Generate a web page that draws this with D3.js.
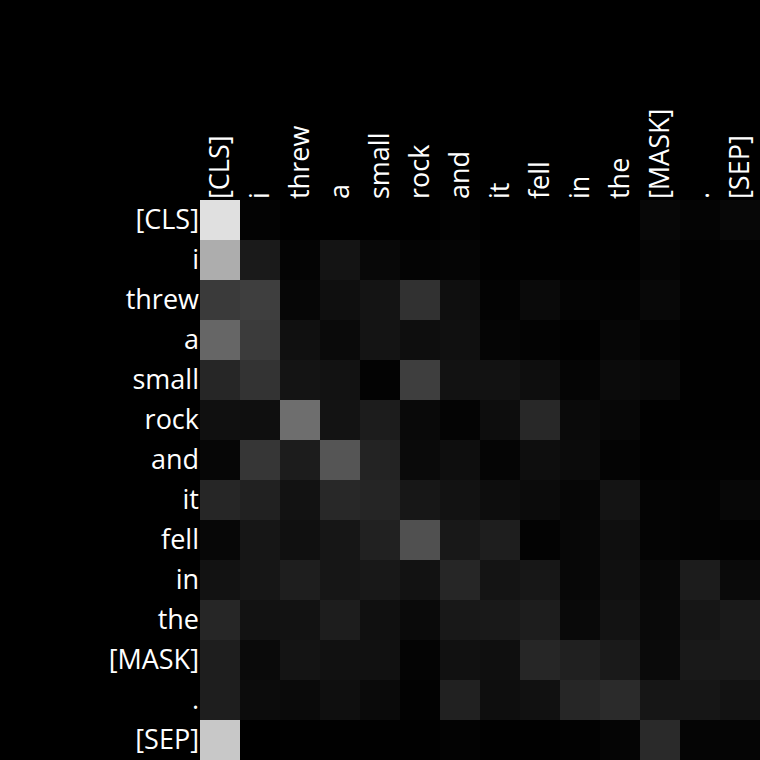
<!DOCTYPE html>
<html>
<head>
<meta charset="utf-8">
<script src="https://cdn.jsdelivr.net/npm/d3@7"></script>
<style>
  html, body { margin: 0; padding: 0; background: #000; }
  svg { display: block; }
</style>
</head>
<body>
<script>
const tokens = ["[CLS]", "i", "threw", "a", "small", "rock", "and", "it", "fell", "in", "the", "[MASK]", ".", "[SEP]"];

// attention weights, one row per query token
const row_CLS  = [0.878, 0.012, 0.000, 0.000, 0.000, 0.000, 0.008, 0.000, 0.000, 0.000, 0.000, 0.027, 0.016, 0.027];
const row_i    = [0.678, 0.102, 0.016, 0.078, 0.031, 0.016, 0.020, 0.004, 0.004, 0.004, 0.004, 0.020, 0.008, 0.012];
const row_threw= [0.227, 0.243, 0.024, 0.059, 0.078, 0.192, 0.059, 0.012, 0.039, 0.016, 0.012, 0.031, 0.008, 0.008];
const row_a    = [0.400, 0.231, 0.063, 0.039, 0.078, 0.055, 0.063, 0.020, 0.012, 0.004, 0.024, 0.012, 0.004, 0.004];
const row_small= [0.149, 0.200, 0.078, 0.071, 0.012, 0.243, 0.071, 0.071, 0.055, 0.020, 0.043, 0.035, 0.004, 0.004];
const row_rock = [0.063, 0.059, 0.431, 0.075, 0.110, 0.035, 0.016, 0.051, 0.157, 0.039, 0.027, 0.004, 0.004, 0.004];
const row_and  = [0.024, 0.212, 0.110, 0.333, 0.137, 0.039, 0.055, 0.020, 0.055, 0.043, 0.016, 0.004, 0.008, 0.008];
const row_it   = [0.149, 0.129, 0.071, 0.157, 0.145, 0.090, 0.071, 0.051, 0.043, 0.024, 0.078, 0.016, 0.012, 0.027];
const row_fell = [0.027, 0.086, 0.063, 0.086, 0.129, 0.314, 0.094, 0.118, 0.012, 0.027, 0.059, 0.016, 0.012, 0.008];
const row_in   = [0.071, 0.086, 0.118, 0.086, 0.094, 0.071, 0.149, 0.078, 0.090, 0.027, 0.063, 0.031, 0.110, 0.039];
const row_the  = [0.149, 0.071, 0.071, 0.114, 0.063, 0.039, 0.094, 0.098, 0.114, 0.035, 0.075, 0.035, 0.086, 0.102];
const row_MASK = [0.118, 0.039, 0.078, 0.067, 0.067, 0.016, 0.067, 0.059, 0.149, 0.125, 0.102, 0.039, 0.098, 0.098];
const row_dot  = [0.118, 0.047, 0.039, 0.059, 0.039, 0.008, 0.129, 0.055, 0.067, 0.149, 0.169, 0.086, 0.086, 0.071];
const row_SEP  = [0.784, 0.000, 0.004, 0.004, 0.004, 0.004, 0.012, 0.004, 0.004, 0.008, 0.020, 0.165, 0.020, 0.020];

const rows = [row_CLS, row_i, row_threw, row_a, row_small, row_rock, row_and, row_it, row_fell, row_in, row_the, row_MASK, row_dot, row_SEP];

const W = 760, H = 760;
const margin = {left: 200, top: 200};
const size = 560;

const svg = d3.select("body").append("svg").attr("width", W).attr("height", H)
  .style("background", "#000");
svg.append("rect").attr("width", W).attr("height", H).attr("fill", "#000");

const x = d3.scaleBand().domain(d3.range(tokens.length)).range([0, size]);
const y = d3.scaleBand().domain(d3.range(tokens.length)).range([0, size]);
const color = d3.scaleLinear().domain([0, 1]).range(["#000000", "#ffffff"]);

const g = svg.append("g").attr("transform", `translate(${margin.left},${margin.top})`);

const cells = [];
rows.forEach((r, i) => r.forEach((v, j) => cells.push({i, j, v})));

g.selectAll("rect.cell").data(cells).join("rect")
  .attr("class", "cell")
  .attr("x", d => x(d.j))
  .attr("y", d => y(d.i))
  .attr("width", x.bandwidth())
  .attr("height", y.bandwidth())
  .attr("fill", d => color(d.v))
  .attr("shape-rendering", "crispEdges");

const font = "'Open Sans', 'Noto Sans', sans-serif";
const fs = 27;

const yAxis = g.append("g")
  .call(d3.axisLeft(y).tickSize(0).tickPadding(1).tickFormat(i => tokens[i]));
yAxis.select(".domain").remove();
yAxis.selectAll("text")
  .attr("fill", "#fff")
  .style("font-family", font)
  .style("font-size", fs + "px");

const xAxis = g.append("g")
  .call(d3.axisTop(x).tickSize(0).tickPadding(2).tickFormat(i => tokens[i]));
xAxis.select(".domain").remove();
xAxis.selectAll("text")
  .attr("fill", "#fff")
  .style("font-family", font)
  .style("font-size", fs + "px")
  .attr("text-anchor", "start")
  .attr("transform", "rotate(-90)")
  .attr("x", 1)
  .attr("y", 0)
  .attr("dy", "0.35em");
</script>
</body>
</html>
